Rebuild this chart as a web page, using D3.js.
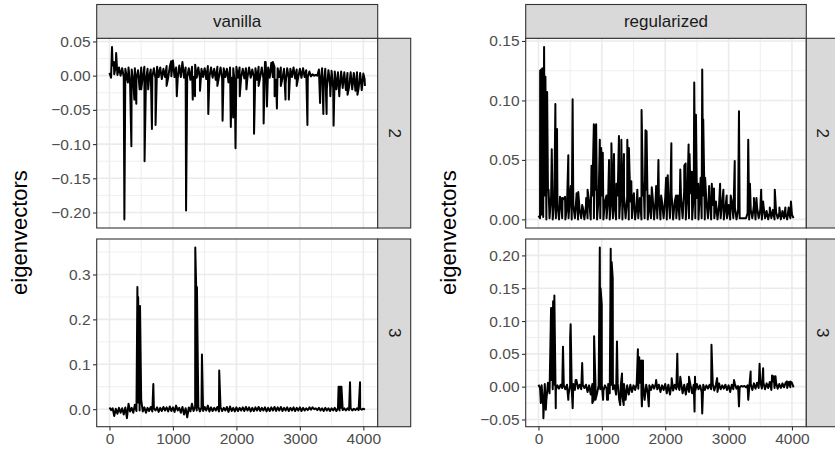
<!DOCTYPE html>
<html><head><meta charset="utf-8">
<script src="https://cdn.jsdelivr.net/npm/d3@7"></script>
<style>body{margin:0;background:#fff}svg{display:block}</style>
</head><body>
<script>
// ---------- data ----------
const methods = ["vanilla", "regularized"];
const components = ["2", "3"];
const baseStep = 50;           // band samples: hi at k*50, lo at k*50+25

// vanilla, eigenvector 2
const v2Hi = [0.004,0.015,0.014,0.012,0.011,0.010,0.012,0.009,0.011,0.008,0.012,0.013,0.010,0.009,0.011,0.013,0.012,0.010,0.014,0.013,0.022,0.012,0.015,0.020,0.012,0.011,0.013,0.016,0.012,0.010,0.011,0.014,0.012,0.010,0.013,0.012,0.011,0.010,0.012,0.011,0.013,0.012,0.010,0.011,0.012,0.009,0.011,0.013,0.012,0.020,0.012,0.019,0.013,0.011,0.012,0.010,0.011,0.010,0.012,0.009,0.010,0.011,0.008,0.006,0.002,0.001,0.009,0.011,0.010,0.008,0.007,0.006,0.005,0.006,0.005,0.004,0.005,0.004,0.005,0.004,0.003];
const v2Lo = [-0.003,0.002,0.001,0.000,-0.002,-0.003,-0.012,-0.008,-0.004,-0.020,-0.002,-0.006,-0.003,-0.002,-0.004,-0.002,-0.005,-0.002,-0.003,-0.001,-0.002,-0.004,-0.002,-0.003,-0.002,-0.006,-0.002,-0.003,-0.004,-0.002,-0.005,-0.002,-0.003,-0.006,-0.002,-0.004,-0.002,-0.010,-0.003,-0.012,-0.003,-0.002,-0.004,-0.002,-0.003,-0.002,-0.006,-0.002,-0.004,-0.010,-0.003,-0.002,-0.006,-0.002,-0.004,-0.012,-0.003,-0.002,-0.004,-0.002,-0.003,-0.002,-0.002,-0.001,0.000,0.000,-0.010,-0.015,-0.020,-0.012,-0.018,-0.020,-0.022,-0.018,-0.021,-0.017,-0.020,-0.022,-0.019,-0.021,-0.015];
const v2Spikes = [[40,0.042],[70,0.020],[105,0.033],[235,-0.210],[290,-0.010],[345,-0.103],[392,-0.035],[423,-0.041],[500,-0.020],[553,-0.125],[610,-0.020],[669,-0.078],[726,-0.072],[900,-0.015],[972,0.021],[1061,-0.030],[1149,0.020],[1207,-0.197],[1312,-0.035],[1348,-0.030],[1426,-0.022],[1557,-0.056],[1700,-0.015],[1782,-0.066],[1912,-0.075],[1949,-0.061],[1986,-0.106],[2053,-0.030],[2158,-0.020],[2278,-0.085],[2350,-0.015],[2429,-0.070],[2461,0.020],[2481,-0.045],[2575,0.020],[2602,-0.030],[2638,-0.048],[2700,-0.015],[2774,-0.035],[2826,-0.035],[2950,-0.015],[3119,-0.072],[3318,-0.040],[3370,-0.056],[3421,-0.056],[3480,-0.030],[3531,-0.073],[3621,-0.030],[3751,-0.028],[3907,-0.028],[4020,-0.005]];

// vanilla, eigenvector 3
const v3Hi = [0.004,0.002,0.001,0.003,0.002,0.004,0.012,0.003,0.010,0.015,0.020,0.004,0.003,0.005,0.002,0.004,0.003,0.005,0.004,0.006,0.004,0.008,0.003,0.005,0.002,0.004,0.012,0.005,0.006,0.004,0.005,0.008,0.004,0.003,0.005,0.004,0.003,0.005,0.006,0.003,0.004,0.003,0.004,0.005,0.004,0.003,0.004,0.005,0.003,0.004,0.003,0.004,0.005,0.004,0.005,0.003,0.004,0.003,0.004,0.003,0.004,0.003,0.002,0.004,0.004,0.002,0.003,0.002,0.003,0.002,0.002,0.003,0.002,0.003,0.002,0.002,0.002,0.001,0.002,0.001,0.001];
const v3Lo = [-0.002,-0.015,-0.010,-0.008,-0.012,-0.020,-0.005,-0.008,-0.004,-0.003,-0.005,-0.008,-0.004,-0.005,-0.003,-0.006,-0.004,-0.003,-0.005,-0.004,-0.006,-0.003,-0.008,-0.012,-0.018,-0.005,-0.004,-0.003,-0.005,-0.004,-0.003,-0.005,-0.004,-0.003,-0.005,-0.004,-0.003,-0.006,-0.004,-0.005,-0.004,-0.003,-0.004,-0.003,-0.005,-0.004,-0.003,-0.004,-0.003,-0.005,-0.004,-0.003,-0.004,-0.003,-0.004,-0.003,-0.004,-0.003,-0.004,-0.003,-0.004,-0.003,-0.002,-0.001,0.000,-0.002,-0.003,-0.004,-0.003,-0.004,-0.003,-0.004,-0.003,-0.002,-0.003,-0.002,-0.003,-0.002,-0.002,-0.001,-0.001];
const v3Spikes = [[440,0.272],[452,0.250],[481,0.230],[691,0.056],[1352,0.360],[1365,0.280],[1378,0.272],[1457,0.122],[1729,0.086],[3610,0.050],[3625,0.050],[3640,0.050],[3655,0.050],[3790,0.060],[3948,0.060]];

// regularized, eigenvector 2
const r2Hi = [0.003,0.004,0.020,0.025,0.020,0.015,0.012,0.018,0.017,0.010,0.022,0.012,0.020,0.008,0.010,0.012,0.015,0.020,0.025,0.018,0.020,0.015,0.018,0.020,0.012,0.020,0.025,0.020,0.018,0.015,0.020,0.012,0.018,0.020,0.025,0.015,0.020,0.018,0.020,0.015,0.018,0.020,0.022,0.015,0.020,0.018,0.025,0.020,0.022,0.020,0.018,0.025,0.020,0.015,0.018,0.012,0.015,0.012,0.015,0.010,0.012,0.015,0.010,0.008,0.001,0.001,0.005,0.008,0.012,0.010,0.008,0.012,0.007,0.006,0.008,0.006,0.005,0.007,0.005,0.006,0.004];
const r2Lo = [0.001,0.002,0.000,0.001,0.000,0.001,0.000,0.001,0.000,0.001,0.000,0.001,0.000,0.001,0.000,0.001,0.000,0.001,0.000,0.001,0.000,0.001,0.000,0.001,0.000,0.001,0.000,0.001,0.000,0.001,0.000,0.001,0.000,0.001,0.000,0.001,0.000,0.001,0.000,0.001,0.000,0.001,0.000,0.001,0.000,0.001,0.000,0.001,0.000,0.001,0.000,0.001,0.000,0.001,0.000,0.001,0.000,0.001,0.000,0.001,0.000,0.001,0.000,0.001,0.001,0.001,0.000,0.001,0.000,0.001,0.000,0.001,0.000,0.001,0.000,0.001,0.000,0.001,0.000,0.001,0.001];
const r2Spikes = [[27,0.125],[45,0.126],[63,0.127],[89,0.145],[110,0.120],[137,0.107],[160,0.025],[210,0.059],[267,0.097],[293,0.076],[340,0.019],[380,0.018],[420,0.019],[471,0.054],[510,0.028],[539,0.101],[602,0.022],[628,0.023],[690,0.012],[753,0.018],[775,0.025],[837,0.045],[874,0.080],[895,0.079],[910,0.080],[968,0.067],[990,0.060],[1015,0.056],[1073,0.020],[1114,0.050],[1151,0.064],[1192,0.055],[1230,0.030],[1270,0.070],[1308,0.067],[1349,0.055],[1402,0.067],[1427,0.060],[1465,0.032],[1506,0.022],[1560,0.025],[1627,0.092],[1660,0.030],[1689,0.075],[1706,0.074],[1750,0.020],[1788,0.027],[1857,0.028],[1893,0.050],[1936,0.020],[2014,0.035],[2040,0.037],[2097,0.064],[2171,0.020],[2238,0.042],[2301,0.045],[2322,0.047],[2369,0.063],[2384,0.055],[2420,0.040],[2458,0.115],[2485,0.088],[2520,0.030],[2560,0.035],[2584,0.126],[2600,0.084],[2630,0.035],[2693,0.028],[2735,0.030],[2770,0.026],[2866,0.030],[2918,0.025],[2970,0.020],[3034,0.020],[3097,0.049],[3164,0.091],[3310,0.067],[3337,0.030],[3400,0.018],[3440,0.018],[3514,0.025],[3545,0.015],[3650,0.010],[3729,0.025],[3802,0.010],[3896,0.010],[3948,0.010],[3984,0.015]];

// regularized, eigenvector 3
const r3Hi = [0.003,0.002,0.004,0.006,0.010,0.003,0.002,0.003,0.002,0.003,0.002,0.004,0.010,0.003,0.002,0.003,0.002,0.004,0.003,0.002,0.003,0.002,0.004,0.003,0.002,0.005,0.003,0.004,0.002,0.003,0.002,0.004,0.006,0.005,0.003,0.002,0.003,0.004,0.003,0.002,0.004,0.003,0.004,0.003,0.002,0.006,0.003,0.004,0.002,0.003,0.004,0.002,0.003,0.002,0.003,0.004,0.003,0.005,0.002,0.003,0.002,0.003,0.004,0.001,0.001,0.001,0.002,0.004,0.005,0.006,0.008,0.006,0.005,0.007,0.008,0.006,0.004,0.005,0.006,0.007,0.006];
const r3Lo = [-0.002,-0.030,-0.020,-0.010,-0.004,-0.005,-0.003,-0.002,-0.004,-0.012,-0.003,-0.005,-0.003,-0.004,-0.002,-0.008,-0.012,-0.020,-0.010,-0.004,-0.006,-0.003,-0.010,-0.004,-0.012,-0.020,-0.015,-0.020,-0.012,-0.008,-0.005,-0.003,-0.012,-0.020,-0.010,-0.005,-0.003,-0.004,-0.008,-0.005,-0.010,-0.012,-0.006,-0.004,-0.005,-0.010,-0.012,-0.008,-0.010,-0.006,-0.004,-0.008,-0.005,-0.003,-0.004,-0.006,-0.008,-0.004,-0.003,-0.005,-0.008,-0.004,-0.003,-0.001,0.000,-0.001,-0.003,-0.005,-0.003,-0.002,-0.003,-0.004,-0.002,-0.005,-0.002,-0.003,-0.002,-0.001,-0.002,-0.001,-0.001];
const r3Spikes = [[38,-0.025],[78,-0.048],[116,-0.035],[199,0.120],[215,0.120],[231,0.130],[251,0.139],[273,-0.033],[387,0.061],[471,-0.020],[500,0.075],[508,0.095],[540,-0.033],[586,0.010],[690,0.036],[850,-0.025],[878,0.077],[900,-0.020],[968,0.212],[980,0.150],[999,0.125],[1020,-0.020],[1082,-0.020],[1098,-0.020],[1140,0.210],[1155,0.190],[1172,0.165],[1239,0.069],[1290,-0.028],[1318,0.020],[1345,-0.028],[1569,0.057],[1590,0.045],[1622,0.040],[1632,-0.030],[1649,0.040],[1741,-0.030],[1857,0.010],[2102,0.013],[2191,0.050],[2238,0.015],[2375,0.015],[2463,-0.038],[2470,0.015],[2584,-0.041],[2730,0.064],[2819,0.013],[3086,0.010],[3164,-0.030],[3310,-0.020],[3348,0.023],[3489,0.035],[3545,0.028],[3686,0.017],[3713,0.016],[3740,0.016],[3920,0.008],[3975,0.008]];

// tick values and labels
const xTicks = [0, 1000, 2000, 3000, 4000];
const xTickLabels = ["0", "1000", "2000", "3000", "4000"];
const yTicksV2 = [-0.20, -0.15, -0.10, -0.05, 0.00, 0.05];
const yLabelsV2 = ["\u22120.20", "\u22120.15", "\u22120.10", "\u22120.05", "0.00", "0.05"];
const yTicksV3 = [0.0, 0.1, 0.2, 0.3];
const yLabelsV3 = ["0.0", "0.1", "0.2", "0.3"];
const yTicksR2 = [0.00, 0.05, 0.10, 0.15];
const yLabelsR2 = ["0.00", "0.05", "0.10", "0.15"];
const yTicksR3 = [-0.05, 0.00, 0.05, 0.10, 0.15, 0.20];
const yLabelsR3 = ["\u22120.05", "0.00", "0.05", "0.10", "0.15", "0.20"];
const yTitle = "eigenvectors";

// ---------- build series ----------
function series(hi, lo, spikes) {
  const pts = [];
  hi.forEach((v, k) => pts.push([k * baseStep, v]));
  lo.forEach((v, k) => pts.push([k * baseStep + baseStep / 2, v]));
  spikes.forEach(p => pts.push(p));
  pts.sort((a, b) => a[0] - b[0]);
  return pts;
}
const panels = [
  {col: 0, row: 0, data: series(v2Hi, v2Lo, v2Spikes), ticks: yTicksV2, labels: yLabelsV2},
  {col: 0, row: 1, data: series(v3Hi, v3Lo, v3Spikes), ticks: yTicksV3, labels: yLabelsV3},
  {col: 1, row: 0, data: series(r2Hi, r2Lo, r2Spikes), ticks: yTicksR2, labels: yLabelsR2},
  {col: 1, row: 1, data: series(r3Hi, r3Lo, r3Spikes), ticks: yTicksR3, labels: yLabelsR3}
];

// ---------- layout ----------
const W = 835, H = 459;
const FONT = "'Liberation Sans', Arial, Helvetica, sans-serif";
const TICK_FS = "15.5px", STRIP_FS = "17px", TITLE_FS = "22px";
const cols = [{x0: 96.7, x1: 377.7, titleX: 19}, {x0: 525.7, x1: 806.3, titleX: 448}];
const rows = [{y0: 38.3, y1: 228}, {y0: 239, y1: 426.7}];
const stripTop = 4.5, stripW = 33;

const svg = d3.select("body").append("svg").attr("width", W).attr("height", H);
svg.append("rect").attr("width", W).attr("height", H).attr("fill", "#fff");

function expand(ext) { const d = (ext[1] - ext[0]) * 0.05; return [ext[0] - d, ext[1] + d]; }

panels.forEach(p => {
  const c = cols[p.col], r = rows[p.row];
  const x = d3.scaleLinear().domain(expand(d3.extent(p.data, d => d[0]))).range([c.x0, c.x1]);
  const y = d3.scaleLinear().domain(expand(d3.extent(p.data, d => d[1]))).range([r.y1, r.y0]);
  const g = svg.append("g");
  g.append("rect").attr("x", c.x0).attr("y", r.y0).attr("width", c.x1 - c.x0).attr("height", r.y1 - r.y0).attr("fill", "#fff");

  // grid
  const xStep = xTicks[1] - xTicks[0];
  const xMinor = [xTicks[0] - xStep, ...xTicks].map(v => v + xStep / 2).filter(v => v > x.domain()[0] && v < x.domain()[1]);
  const yStep = p.ticks[1] - p.ticks[0];
  const yMinor = [p.ticks[0] - yStep, ...p.ticks].map(v => v + yStep / 2).filter(v => v > y.domain()[0] && v < y.domain()[1]);
  g.selectAll(".xm").data(xMinor).join("line").attr("x1", d => x(d)).attr("x2", d => x(d)).attr("y1", r.y0).attr("y2", r.y1).attr("stroke", "#EBEBEB").attr("stroke-width", 0.8);
  g.selectAll(".ym").data(yMinor).join("line").attr("y1", d => y(d)).attr("y2", d => y(d)).attr("x1", c.x0).attr("x2", c.x1).attr("stroke", "#EBEBEB").attr("stroke-width", 0.8);
  g.selectAll(".xM").data(xTicks).join("line").attr("x1", d => x(d)).attr("x2", d => x(d)).attr("y1", r.y0).attr("y2", r.y1).attr("stroke", "#EBEBEB").attr("stroke-width", 1.6);
  g.selectAll(".yM").data(p.ticks).join("line").attr("y1", d => y(d)).attr("y2", d => y(d)).attr("x1", c.x0).attr("x2", c.x1).attr("stroke", "#EBEBEB").attr("stroke-width", 1.6);

  // line
  const clipId = "clip" + p.col + p.row;
  svg.append("clipPath").attr("id", clipId).append("rect").attr("x", c.x0).attr("y", r.y0).attr("width", c.x1 - c.x0).attr("height", r.y1 - r.y0);
  g.append("path").datum(p.data).attr("clip-path", `url(#${clipId})`)
    .attr("d", d3.line().x(d => x(d[0])).y(d => y(d[1])))
    .attr("fill", "none").attr("stroke", "#000").attr("stroke-width", 2).attr("stroke-linejoin", "round");

  // border
  g.append("rect").attr("x", c.x0).attr("y", r.y0).attr("width", c.x1 - c.x0).attr("height", r.y1 - r.y0).attr("fill", "none").attr("stroke", "#333333").attr("stroke-width", 1.1);

  // y axis
  const ya = svg.append("g").attr("transform", `translate(${c.x0},0)`)
    .call(d3.axisLeft(y).tickValues(p.ticks).tickFormat((d, i) => p.labels[i]).tickSize(3.7).tickPadding(2.5));
  ya.select(".domain").remove();
  ya.selectAll(".tick line").attr("stroke", "#333333").attr("stroke-width", 1.1);
  ya.selectAll(".tick text").attr("fill", "#4D4D4D").style("font-family", FONT).style("font-size", TICK_FS);

  // x axis on bottom row
  if (p.row === 1) {
    const xa = svg.append("g").attr("transform", `translate(0,${r.y1})`)
      .call(d3.axisBottom(x).tickValues(xTicks).tickFormat((d, i) => xTickLabels[i]).tickSize(3.7).tickPadding(2.5));
    xa.select(".domain").remove();
    xa.selectAll(".tick line").attr("stroke", "#333333").attr("stroke-width", 1.1);
    xa.selectAll(".tick text").attr("fill", "#4D4D4D").style("font-family", FONT).style("font-size", TICK_FS);
  }

  // row strip
  svg.append("rect").attr("x", c.x1).attr("y", r.y0).attr("width", stripW).attr("height", r.y1 - r.y0)
    .attr("fill", "#D9D9D9").attr("stroke", "#333333").attr("stroke-width", 1.1);
  svg.append("text").attr("transform", `translate(${c.x1 + stripW / 2},${(r.y0 + r.y1) / 2}) rotate(90)`)
    .attr("text-anchor", "middle").attr("dominant-baseline", "central")
    .style("font-family", FONT).style("font-size", STRIP_FS).attr("fill", "#1A1A1A").text(components[p.row]);
});

// column strips and axis titles
cols.forEach((c, i) => {
  svg.append("rect").attr("x", c.x0).attr("y", stripTop).attr("width", c.x1 - c.x0).attr("height", rows[0].y0 - stripTop)
    .attr("fill", "#D9D9D9").attr("stroke", "#333333").attr("stroke-width", 1.1);
  svg.append("text").attr("x", (c.x0 + c.x1) / 2).attr("y", (stripTop + rows[0].y0) / 2)
    .attr("text-anchor", "middle").attr("dominant-baseline", "central")
    .style("font-family", FONT).style("font-size", STRIP_FS).attr("fill", "#1A1A1A").text(methods[i]);
  svg.append("text").attr("transform", `translate(${c.titleX},${(rows[0].y0 + rows[1].y1) / 2}) rotate(-90)`)
    .attr("text-anchor", "middle").attr("dominant-baseline", "central")
    .style("font-family", FONT).style("font-size", TITLE_FS).attr("fill", "#000").text(yTitle);
});
</script>
</body></html>
